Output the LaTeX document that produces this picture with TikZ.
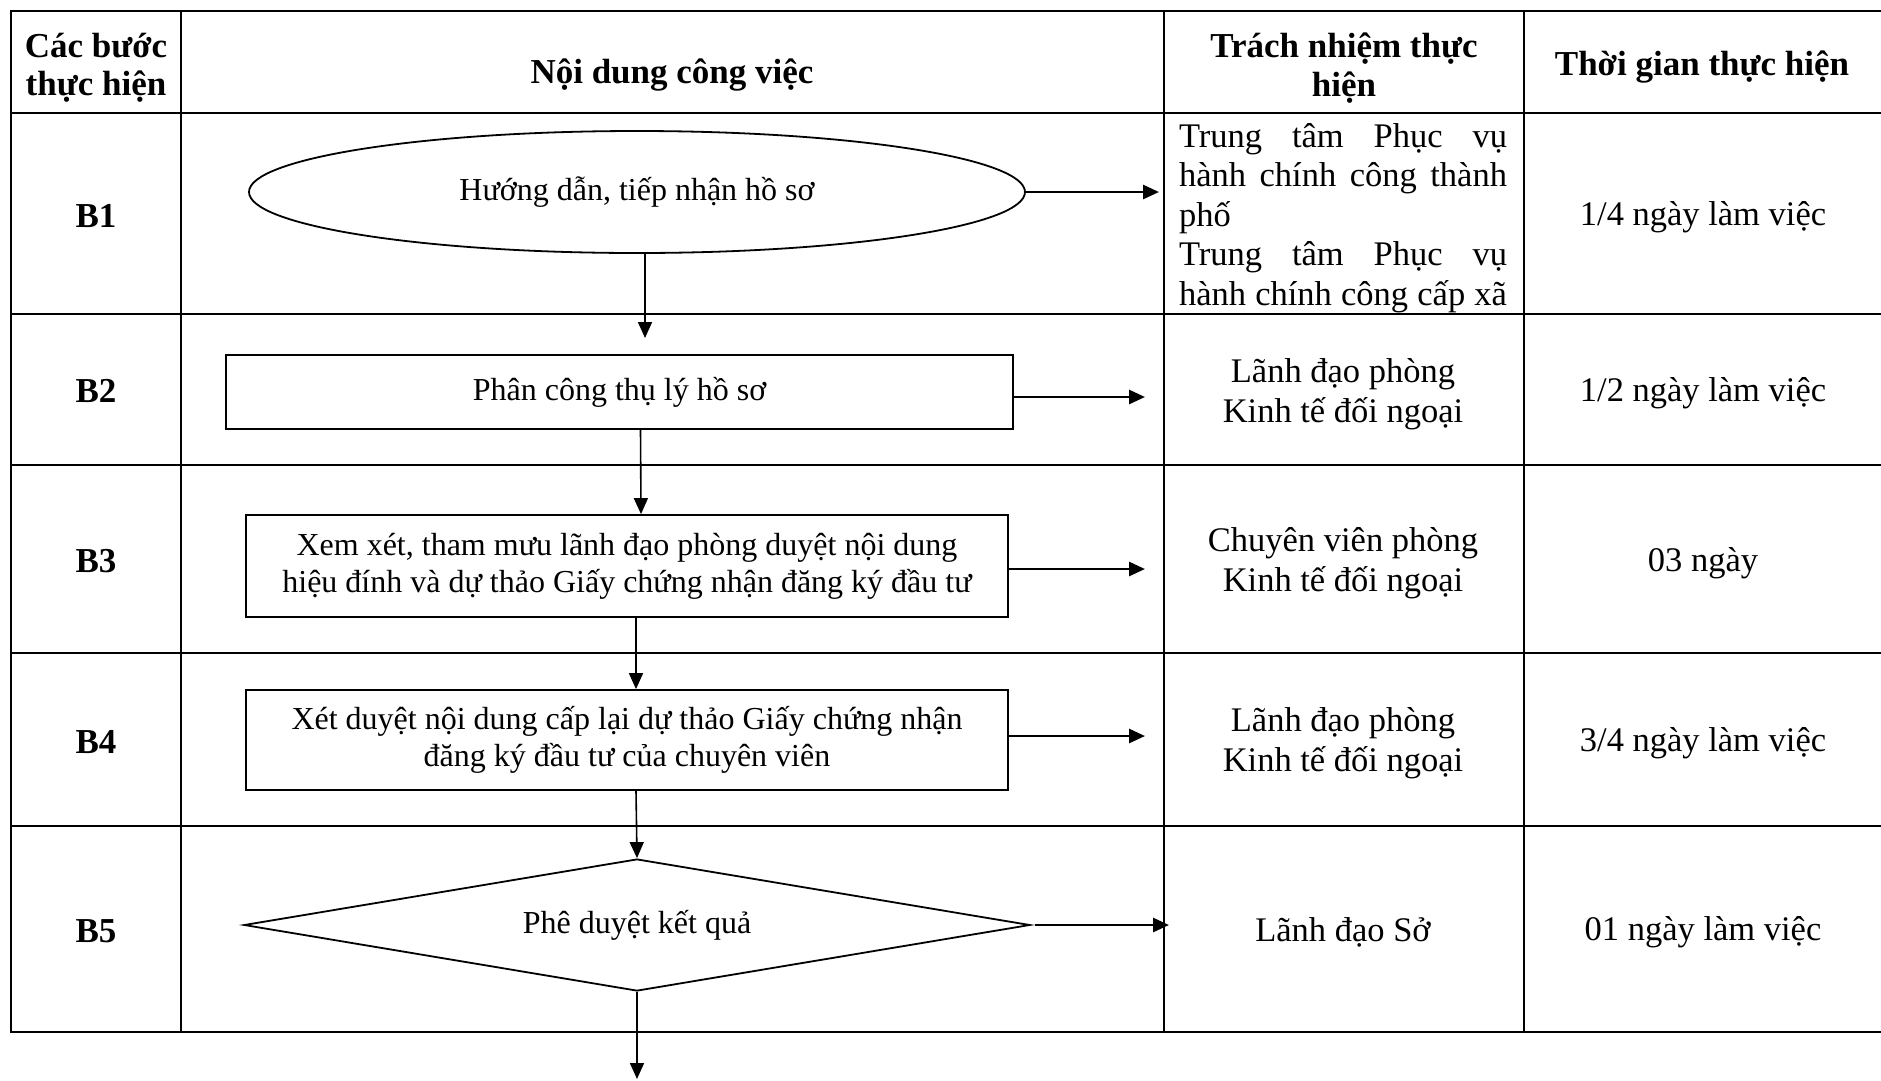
\documentclass[tikz,border=0pt]{standalone}
\usepackage{fontspec}
\setmainfont{Liberation Serif}
\usetikzlibrary{shapes.geometric,arrows.meta}
\tikzset{
    rule/.style={line width=2pt},
    head/.style={align=center,font=\fontsize{35}{38.5}\selectfont\bfseries},
    cell/.style={align=center,font=\fontsize{34.5}{39.5}\selectfont},
    stepbox/.style={draw,line width=1.8pt,inner sep=0pt,align=center,font=\fontsize{32}{36.7}\selectfont},
    flow/.style={-{Triangle[length=16pt,width=14pt]},line width=1.6pt},
    side/.style={-{Triangle[length=16pt,width=14pt]},line width=2.8pt}
}
\begin{document}
\begin{tikzpicture}[x=1pt,y=-1pt]
    \useasboundingbox (0,0) rectangle (1881,1080);
    \foreach \y in {11,113,314,465,653,826,1032} \draw[rule] (10,\y) -- (1881,\y);
    \foreach \x in {11,181,1164,1524} \draw[rule] (\x,11) -- (\x,1032);
    \node[head] (h1) at (96,68) {Các bước\\thực hiện};
    \node[head] (h2) at (672,75) {Nội dung công việc};
    \node[head] (h3) at (1344,68) {Trách nhiệm thực\\hiện};
    \node[head] (h4) at (1702,67) {Thời gian thực hiện};
    \foreach \n/\y in {1/216,2/391,3/561,4/742,5/931} \node[head] (b\n) at (96,\y) {B\n};
    \node[cell,align=left] (r1) at (1343,218) {\makebox[328pt][s]{Trung tâm Phục vụ}\\\makebox[328pt][s]{hành chính công thành}\\\makebox[328pt][l]{phố}\\\makebox[328pt][s]{Trung tâm Phục vụ}\\\makebox[328pt][s]{hành chính công cấp xã}};
    \node[cell] (r2) at (1343,394) {Lãnh đạo phòng\\Kinh tế đối ngoại};
    \node[cell] (r3) at (1343,563) {Chuyên viên phòng\\Kinh tế đối ngoại};
    \node[cell] (r4) at (1343,743) {Lãnh đạo phòng\\Kinh tế đối ngoại};
    \node[cell] (r5) at (1343,932) {Lãnh đạo Sở};
    \node[cell] (t1) at (1703,217) {1/4 ngày làm việc};
    \node[cell] (t2) at (1703,393) {1/2 ngày làm việc};
    \node[cell] (t3) at (1703,563) {03 ngày};
    \node[cell] (t4) at (1703,743) {3/4 ngày làm việc};
    \node[cell] (t5) at (1703,932) {01 ngày làm việc};
    \node[stepbox,shape=ellipse,minimum width=776pt,minimum height=122pt] (s1) at (637,192) {Hướng dẫn, tiếp nhận hồ sơ};
    \node[stepbox,minimum width=787pt,minimum height=74pt] (s2) at (619.5,392) {Phân công thụ lý hồ sơ};
    \node[stepbox,minimum width=762pt,minimum height=102pt] (s3) at (627,566) {Xem xét, tham mưu lãnh đạo phòng duyệt nội dung\\hiệu đính và dự thảo Giấy chứng nhận đăng ký đầu tư};
    \node[stepbox,minimum width=762pt,minimum height=100pt] (s4) at (627,740) {Xét duyệt nội dung cấp lại dự thảo Giấy chứng nhận\\đăng ký đầu tư của chuyên viên};
    \node[stepbox,shape=diamond,aspect=6,minimum width=786pt,minimum height=132pt] (s5) at (637,925) {Phê duyệt kết quả};
    \coordinate (d1) at (645,338);
    \coordinate (d5) at (637,1079);
    \coordinate (e1) at (1159,192);
    \coordinate (e2) at (1145,397);
    \coordinate (e3) at (1145,569);
    \coordinate (e4) at (1145,736);
    \coordinate (e5) at (1169,925);
    \draw[flow] ([xshift=8pt]s1.south) -- (d1);
    \draw[flow] ([xshift=21pt]s2.south) -- ([xshift=14pt]s3.north);
    \draw[flow] ([xshift=9pt]s3.south) -- ([xshift=9pt]s4.north);
    \draw[flow] ([xshift=9pt]s4.south) -- (s5.north);
    \draw[flow] (s5.south) -- (d5);
    \draw[side] (s1.east) -- (e1);
    \draw[side] ([yshift=-5pt]s2.east) -- (e2);
    \draw[side] ([yshift=-3pt]s3.east) -- (e3);
    \draw[side] ([yshift=4pt]s4.east) -- (e4);
    \draw[side] ([xshift=4pt]s5.east) -- (e5);
\end{tikzpicture}
\end{document}
